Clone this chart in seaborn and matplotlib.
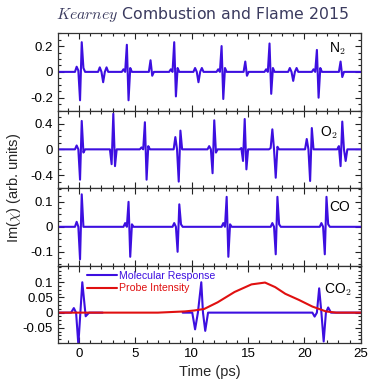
import numpy as np
import pandas as pd
import matplotlib
matplotlib.use("Agg")
import matplotlib.pyplot as plt
from matplotlib.ticker import MultipleLocator, AutoMinorLocator
import seaborn as sns

# ---------------- data ----------------
# keypoint offsets (ps) around each revival centre
offsets = [-0.45, -0.3, -0.15, 0.0, 0.15, 0.3, 0.45]

n2_times = [0.1, 2.15, 4.25, 6.35, 8.45, 10.6, 12.65, 14.75, 16.9, 19.0, 21.1, 23.2]
n2_shapes = [
    [0, 0.04, 0.01, -0.22, 0.23, 0.03, 0],
    [0, 0.035, 0.0, -0.08, 0.0, 0.035, 0],
    [0, 0.02, 0.0, 0.21, -0.22, 0.03, 0],
    [0, 0.0, 0.0, 0.09, -0.03, 0.0, 0],
    [0, 0.02, 0.0, 0.23, -0.19, 0.03, 0],
    [0, 0.03, 0.0, -0.08, 0.0, 0.03, 0],
    [0, 0.02, 0.0, 0.20, -0.21, 0.03, 0],
    [0, 0.0, 0.0, 0.08, -0.03, 0.0, 0],
    [0, 0.02, 0.0, 0.22, -0.17, 0.03, 0],
    [0, 0.03, 0.0, -0.07, 0.0, 0.03, 0],
    [0, 0.02, 0.0, 0.17, -0.20, 0.03, 0],
    [0, 0.0, 0.0, 0.08, -0.04, 0.0, 0],
]

o2_times = [0.1, 3.05, 5.85, 8.85, 11.85, 14.7, 17.3, 20.5, 23.35]
o2_shapes = [
    [0, 0.06, 0.0, -0.47, 0.44, -0.05, 0],
    [0, 0.0, -0.23, 0.55, -0.26, 0.0, 0],
    [0, 0.03, 0.0, 0.42, -0.47, 0.05, 0],
    [0, 0.19, 0.0, -0.50, 0.29, 0.0, 0],
    [0, 0.05, 0.0, -0.37, 0.45, -0.05, 0],
    [0, 0.02, -0.18, 0.47, -0.31, 0.0, 0],
    [0, 0.02, 0.31, 0.0, -0.44, 0.04, 0],
    [0, 0.16, 0.0, -0.49, 0.33, 0.0, 0],
    [0, 0.05, -0.26, 0.43, 0.0, -0.18, 0],
]

co_times = [0.1, 4.4, 8.75, 13.1, 17.45, 21.8]
co_shapes = [
    [0, 0.02, 0.0, -0.13, 0.13, 0.0, 0],
    [0, 0.015, 0.0, 0.10, -0.12, 0.01, 0],
    [0, 0.015, 0.0, -0.10, 0.09, 0.01, 0],
    [0, 0.015, 0.0, 0.12, -0.12, 0.01, 0],
    [0, 0.015, 0.0, -0.11, 0.12, 0.01, 0],
    [0, 0.015, 0.0, -0.11, 0.12, 0.01, 0],
]

co2_seg1_t = [-2.0, -0.7, -0.45, -0.25, -0.05, 0.3, 0.6, 0.9, 2.1]
co2_seg1_v = [0.0, 0.0, 0.015, 0.0, -0.105, 0.10, -0.012, 0.0, 0.0]
co2_seg2_t = [9.2, 10.05, 10.3, 10.55, 10.85, 11.0, 11.2, 11.45, 20.7, 20.9,
              21.1, 21.3, 21.5, 21.7, 21.9, 22.1, 22.35, 25.0]
co2_seg2_v = [0.0, 0.0, -0.055, 0.0, 0.10, 0.0, -0.06, 0.0, 0.0, -0.013,
              0.0, 0.08, 0.0, -0.095, 0.0, 0.017, 0.0, 0.0]

probe_t = [-2.0, 7.0, 9.4, 10.2, 11.1, 12.3, 13.8, 15.3, 16.5, 17.4, 18.3,
           19.5, 20.7, 21.9, 22.8, 25.0]
probe_v = [0.0, 0.0, 0.004, 0.007, 0.012, 0.034, 0.068, 0.093, 0.099, 0.084,
           0.062, 0.042, 0.020, 0.004, 0.0, 0.0]

panel_labels = ["N$_2$", "O$_2$", "CO", "CO$_2$"]
label_pos = [(0.924, 0.80), (0.894, 0.71), (0.93, 0.76), (0.924, 0.69)]
ylims = [(-0.3, 0.3), (-0.6, 0.6), (-0.155, 0.155), (-0.1, 0.155)]
yticks = [[-0.2, 0, 0.2], [-0.4, 0, 0.4], [-0.1, 0, 0.1], [-0.05, 0, 0.05, 0.1]]
ytick_labels = [["-0.2", "0", "0.2"], ["-0.4", "0", "0.4"], ["-0.1", "0", "0.1"],
                ["-0.05", "0", "0.05", "0.1"]]
xticks = [0, 5, 10, 15, 20, 25]


def build(times, shapes):
    t = [-2.0]
    v = [0.0]
    for c, sh in zip(times, shapes):
        t += [c - 0.7] + [c + o for o in offsets] + [c + 0.7]
        v += [0.0] + list(sh) + [0.0]
    t.append(25.0)
    v.append(0.0)
    return pd.DataFrame({"t": t, "v": v})


BLUE = "#3d0fe0"
RED = "#e01010"

sns.set_style("ticks")
plt.rcParams["font.family"] = ["Liberation Sans", "DejaVu Sans"]
plt.rcParams["mathtext.fontset"] = "cm"
plt.rcParams["xtick.direction"] = "in"
plt.rcParams["ytick.direction"] = "in"

fig = plt.figure(figsize=(3.69, 3.81), dpi=100)
gs = fig.add_gridspec(4, 1, left=0.157, right=0.978, bottom=0.0997, top=0.913, hspace=0)
axes = [fig.add_subplot(gs[i]) for i in range(4)]

dfs = [build(n2_times, n2_shapes), build(o2_times, o2_shapes), build(co_times, co_shapes)]
for i, df in enumerate(dfs):
    sns.lineplot(data=df, x="t", y="v", ax=axes[i], color=BLUE, lw=1.5,
                 estimator=None, sort=False)

ax4 = axes[3]
d1 = pd.DataFrame({"t": co2_seg1_t, "v": co2_seg1_v})
d2 = pd.DataFrame({"t": co2_seg2_t, "v": co2_seg2_v})
dp = pd.DataFrame({"t": probe_t, "v": probe_v})
sns.lineplot(data=d1, x="t", y="v", ax=ax4, color=BLUE, lw=1.5, estimator=None,
             sort=False, label="Molecular Response")
sns.lineplot(data=d2, x="t", y="v", ax=ax4, color=BLUE, lw=1.5, estimator=None,
             sort=False)
sns.lineplot(data=dp, x="t", y="v", ax=ax4, color=RED, lw=1.5, estimator=None,
             sort=False, label="Probe Intensity")
leg = ax4.legend(loc="upper left", bbox_to_anchor=(0.075, 1.01), frameon=False,
                 fontsize=7.6, handlelength=2.8, handletextpad=0.25, labelspacing=0.2,
                 borderaxespad=0.2, labelcolor="linecolor")

for i, ax in enumerate(axes):
    ax.set_xlim(-1.86, 25)
    ax.set_ylim(*ylims[i])
    ax.set_yticks(yticks[i])
    ax.set_yticklabels(ytick_labels[i])
    ax.yaxis.set_minor_locator(AutoMinorLocator(4))
    ax.set_xticks(xticks)
    ax.xaxis.set_minor_locator(MultipleLocator(1))
    ax.tick_params(which="both", direction="in", top=True, right=True,
                   labelsize=9.5, colors="#222222", labelcolor="black", width=0.8)
    ax.tick_params(which="major", length=4)
    ax.tick_params(which="minor", length=2.5)
    for s in ax.spines.values():
        s.set_visible(True)
        s.set_linewidth(0.9)
        s.set_color("#333333")
    ax.set_xlabel("")
    ax.set_ylabel("")
    if i < 3:
        ax.tick_params(labelbottom=False)
    ax.text(label_pos[i][0], label_pos[i][1], panel_labels[i], transform=ax.transAxes,
            fontsize=10, ha="center", va="center", color="black")

ax4.set_xticklabels([str(x) for x in xticks])
ax4.set_xlabel("Time (ps)", fontsize=10.5, labelpad=4)

fig.text(0.038, 0.507, r"Im($\chi$) (arb. units)", rotation=90, ha="center",
         va="center", fontsize=10.5)
fig.text(0.548, 0.963, r"$Kearney$ Combustion and Flame 2015", ha="center",
         va="center", fontsize=11.3, color="#3a3a5e",
         family=["DejaVu Sans"])

fig.savefig("out.png", dpi=100)
